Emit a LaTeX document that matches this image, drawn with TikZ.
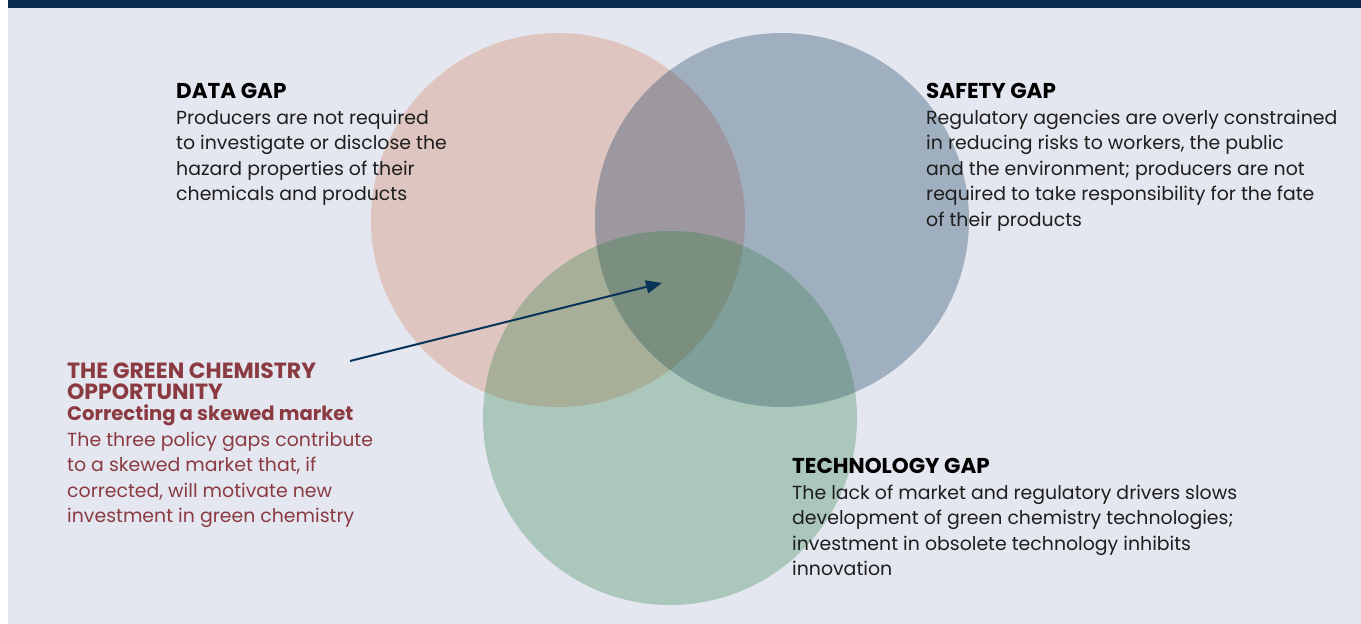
\documentclass[tikz,border=0pt]{standalone}
\usepackage{fontspec}
\setmainfont{Poppins}
\usetikzlibrary{arrows.meta}
\definecolor{bg}{HTML}{E4E7EF}
\definecolor{bar}{HTML}{0B2D4F}
\definecolor{pinkc}{HTML}{DEC5BF}
\definecolor{bluec}{HTML}{A0AFBF}
\definecolor{greenc}{HTML}{ABC6BB}
\definecolor{pbc}{HTML}{9D979F}
\definecolor{pgc}{HTML}{A8AF99}
\definecolor{bgc}{HTML}{7E9F9A}
\definecolor{pbgc}{HTML}{7A8F80}
\definecolor{redtxt}{HTML}{8B3A42}
\definecolor{arrowc}{HTML}{0A3358}
\definecolor{bodytxt}{HTML}{1E1E1E}
\begin{document}
\begin{tikzpicture}[x=1pt,y=-1pt,
  txt/.style={anchor=base west,inner sep=0pt,align=left,font=\fontsize{18.9}{25.5}\selectfont,text=bodytxt},
  ttl/.style={anchor=base west,inner sep=0pt,font=\fontsize{21.5}{25.5}\selectfont\bfseries,text=black},
  rtxt/.style={txt,text=redtxt},
  rttl/.style={anchor=base west,inner sep=0pt,align=left,font=\fontsize{22}{21}\selectfont\bfseries,text=redtxt},
  rsub/.style={anchor=base west,inner sep=0pt,font=\fontsize{19.6}{21}\selectfont\bfseries,text=redtxt}]
\useasboundingbox (0,0) rectangle (1361,624);
\fill[white] (0,0) rectangle (1361,624);
\fill[bg] (8,0) rectangle (1361,624);
\fill[bar] (8,0) rectangle (1361,7.5);
% circles
\def\pinkcirc{(558,220) circle[radius=187]}
\def\bluecirc{(782,220) circle[radius=187]}
\def\greencirc{(670,418) circle[radius=187]}
\fill[pinkc] \pinkcirc;
\fill[bluec] \bluecirc;
\fill[greenc] \greencirc;
\begin{scope}\clip \pinkcirc; \fill[pbc] \bluecirc; \end{scope}
\begin{scope}\clip \pinkcirc; \fill[pgc] \greencirc; \end{scope}
\begin{scope}\clip \bluecirc; \fill[bgc] \greencirc; \end{scope}
\begin{scope}\clip \pinkcirc; \clip \bluecirc; \fill[pbgc] \greencirc; \end{scope}
% data gap
\node[ttl] (dt) at (176,98) {DATA GAP};
\node[txt] (db) at (176,200.5) {Producers are not required\\to investigate or disclose the\\hazard properties of their\\chemicals and products};
% safety gap
\node[ttl] (st) at (926,98) {SAFETY GAP};
\node[txt] (sb) at (926,226) {Regulatory agencies are overly constrained\\in reducing risks to workers, the public\\and the environment; producers are not\\required to take responsibility for the fate\\of their products};
% technology gap
\node[ttl] (tt) at (792,473) {TECHNOLOGY GAP};
\node[txt] (tb) at (792,575.5) {The lack of market and regulatory drivers slows\\development of green chemistry technologies;\\investment in obsolete technology inhibits\\innovation};
% green chemistry
\node[rttl] (gt) at (67,399) {THE GREEN CHEMISTRY\\OPPORTUNITY};
\node[rsub] (gs) at (67,420.5) {Correcting a skewed market};
\node[rtxt] (gb) at (67,522.5) {The three policy gaps contribute\\to a skewed market that, if\\corrected, will motivate new\\investment in green chemistry};
\coordinate (as) at (350,361);
\coordinate (ae) at (662,283);
\draw[arrowc,line width=2pt,-{Triangle[length=16pt,width=13pt]}] (as) -- (ae);
\end{tikzpicture}
\end{document}
